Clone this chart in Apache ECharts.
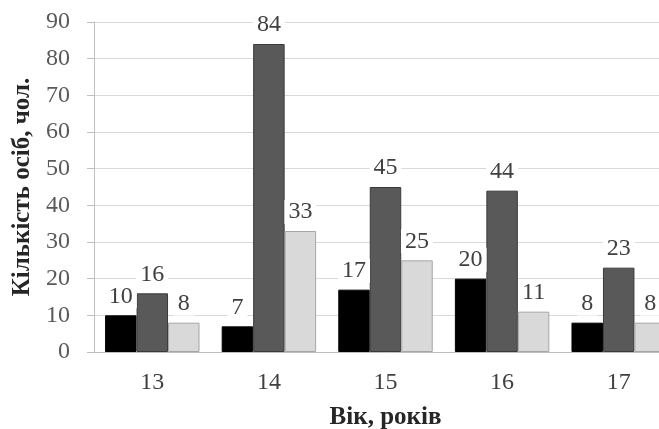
<!DOCTYPE html>
<html><head><meta charset="utf-8">
<script src="https://cdn.jsdelivr.net/npm/echarts@6/dist/echarts.min.js"></script>
<style>html,body{margin:0;padding:0;background:#fff;overflow:hidden;width:659px;height:429px}#c{width:677px;height:429px}</style>
</head><body><div id="c"></div>
<script>
var categories = ['13', '14', '15', '16', '17'];
var seriesA = [10, 7, 17, 20, 8];
var seriesB = [16, 84, 45, 44, 23];
var seriesC = [8, 33, 25, 11, 8];
var yTicks = [0, 10, 20, 30, 40, 50, 60, 70, 80, 90];

var font = '"Liberation Serif", "Times New Roman", serif';
var labelStyle = {
  show: true, position: 'top', distance: 7,
  fontFamily: font, fontSize: 24, color: '#404040',
  backgroundColor: '#fff', padding: [0, 4, 0, 4]
};
function mk(data, color, border) {
  return {
    type: 'bar', data: data, barGap: '0%', barCategoryGap: '19%',
    itemStyle: { color: color, borderColor: border, borderWidth: 1 },
    label: labelStyle
  };
}
var chart = echarts.init(document.getElementById('c'));
chart.setOption({
  animation: false,
  grid: { left: 94, right: 0, top: 22, bottom: 77, containLabel: false, outerBoundsMode: 'none' },
  xAxis: {
    type: 'category', data: categories,
    name: 'Вік, років', nameLocation: 'middle', nameGap: 53,
    nameTextStyle: { fontFamily: font, fontSize: 25, fontWeight: 'bold', color: '#262626' },
    axisLine: { lineStyle: { color: '#bfbfbf' } },
    axisTick: { length: 6, lineStyle: { color: '#bfbfbf' } },
    axisLabel: { margin: 19, fontFamily: font, fontSize: 24, color: '#404040' }
  },
  yAxis: {
    type: 'value', min: yTicks[0], max: yTicks[yTicks.length - 1], interval: 10,
    name: 'Кількість осіб, чол.', nameLocation: 'middle', nameGap: 58,
    nameTextStyle: { fontFamily: font, fontSize: 25, fontWeight: 'bold', color: '#262626' },
    axisLine: { show: true, lineStyle: { color: '#bfbfbf' } },
    axisTick: { show: true, length: 7, lineStyle: { color: '#bfbfbf' } },
    axisLabel: { margin: 24, fontFamily: font, fontSize: 24, color: '#595959' },
    splitLine: { lineStyle: { color: '#d9d9d9' } }
  },
  series: [
    mk(seriesA, '#000000', '#000000'),
    mk(seriesB, '#595959', '#3a3a3a'),
    mk(seriesC, '#d9d9d9', '#a6a6a6')
  ]
});
</script></body></html>
